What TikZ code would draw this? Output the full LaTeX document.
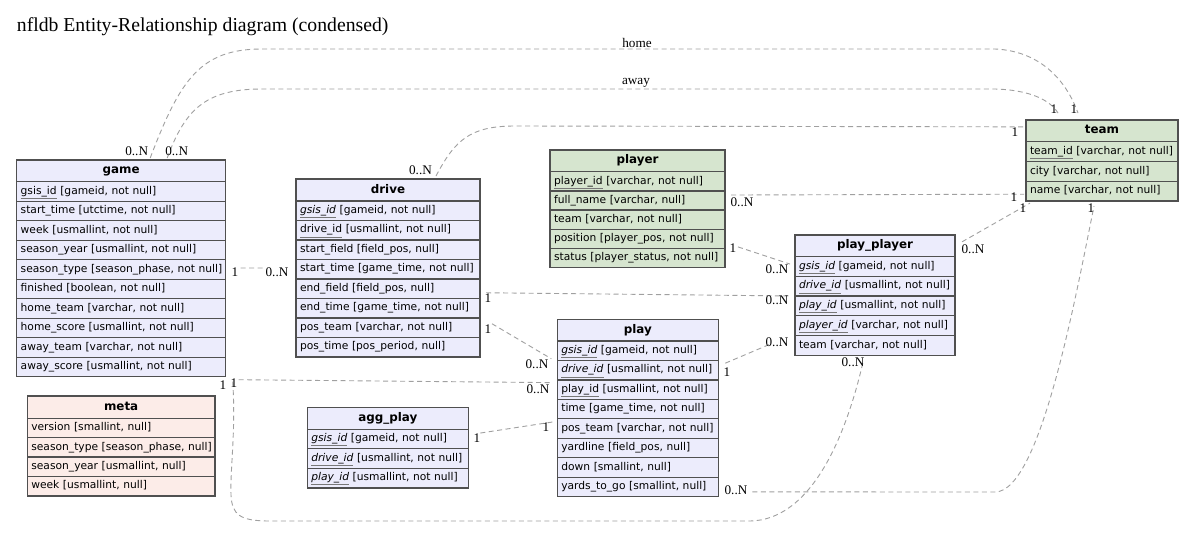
\documentclass[tikz,border=0pt]{standalone}
\usepackage{fontspec}
\setmainfont{Liberation Serif}
\newfontfamily\tabfont{DejaVu Sans}[ItalicFont={DejaVu Sans Oblique},BoldFont={DejaVu Sans Bold}]
\usetikzlibrary{calc,fit}

\definecolor{entfill}{RGB}{236,236,252}
\definecolor{reffill}{RGB}{214,229,207}
\definecolor{metafill}{RGB}{252,236,232}
\definecolor{cellline}{RGB}{80,80,80}
\definecolor{relline}{RGB}{160,160,160}
\definecolor{keyline}{RGB}{120,120,120}

\tikzset{
  ercell/.style={draw=cellline, line width=1.3pt, rectangle, inner xsep=4pt,
    inner ysep=0pt, outer sep=0pt, anchor=north west},
  erhead/.style={ercell, font=\tabfont\bfseries\fontsize{11.9}{13}\selectfont,
    align=center, text height=8.7pt, text depth=2.6pt},
  errow/.style={ercell, font=\tabfont\fontsize{10.7}{12}\selectfont,
    align=left, text height=7.9pt, text depth=2.5pt},
  erframe/.style={draw=cellline, line width=1.4pt, inner sep=0pt, outer sep=0pt},
  relation/.style={draw=relline, line width=0.9pt, dash pattern=on 5pt off 3.5pt},
  card/.style={font=\fontsize{13.2}{14}\selectfont, inner sep=0pt},
}

% primary key and foreign key columns (grey underline)
\newcommand\pkey[1]{{\color{keyline}\underline{\color{black}#1}}}
\newcommand\fkey[1]{\textit{\pkey{#1}}}

% #1 name, #2 x, #3 y, #4 width, #5 header height, #6 row height,
% #7 fill, #8 title, #9 rows
\newcommand\ertable[9]{%
  \pgfmathsetmacro\ertw{#4-8}%
  \node[erhead, fill=#7, minimum height=#5pt, text width=\ertw pt] (#1-h) at (#2,#3) {#8};
  \foreach \r [count=\i] in {#9} {%
    \node[errow, fill=#7, minimum height=#6pt, text width=\ertw pt]
      (#1-\i) at ($(#1-h.south west)+(0,{(\i-1)*#6})$) {\mbox{\r}};
    \xdef\ertlast{\i}%
  }%
  \node[erframe, fit=(#1-h)(#1-\ertlast)] (#1) {};
}

\begin{document}
\begin{tikzpicture}[x=1pt, y=-1pt]
\fill[white] (0,0) rectangle (1201,539);
\useasboundingbox (0,0) rectangle (1201,539);

\node[anchor=base west, inner sep=0pt, font=\fontsize{19.7}{22}\selectfont] (title)
  at (16.7,31) {nfldb Entity-Relationship diagram (condensed)};

% ---------- tables ----------
\ertable{game}{16.7}{160}{209}{21.7}{19.5}{entfill}{game}{
  {\pkey{gsis\_id} [gameid, not null]},
  {start\_time [utctime, not null]},
  {week [usmallint, not null]},
  {season\_year [usmallint, not null]},
  {season\_type [season\_phase, not null]},
  {finished [boolean, not null]},
  {home\_team [varchar, not null]},
  {home\_score [usmallint, not null]},
  {away\_team [varchar, not null]},
  {away\_score [usmallint, not null]}}

\ertable{drive}{296}{179}{184}{22}{19.5}{entfill}{drive}{
  {\fkey{gsis\_id} [gameid, not null]},
  {\pkey{drive\_id} [usmallint, not null]},
  {start\_field [field\_pos, null]},
  {start\_time [game\_time, not null]},
  {end\_field [field\_pos, null]},
  {end\_time [game\_time, not null]},
  {pos\_team [varchar, not null]},
  {pos\_time [pos\_period, null]}}

\ertable{player}{550}{150}{175}{21.7}{19.2}{reffill}{player}{
  {\pkey{player\_id} [varchar, not null]},
  {full\_name [varchar, null]},
  {team [varchar, not null]},
  {position [player\_pos, not null]},
  {status [player\_status, not null]}}

\ertable{team}{1026}{120}{152}{21.7}{19.8}{reffill}{team}{
  {\pkey{team\_id} [varchar, not null]},
  {city [varchar, not null]},
  {name [varchar, not null]}}

\ertable{playplayer}{795}{235}{160}{21.7}{19.7}{entfill}{play\_player}{
  {\fkey{gsis\_id} [gameid, not null]},
  {\fkey{drive\_id} [usmallint, not null]},
  {\fkey{play\_id} [usmallint, not null]},
  {\fkey{player\_id} [varchar, not null]},
  {team [varchar, not null]}}

\ertable{play}{557.3}{319.3}{161}{21.7}{19.45}{entfill}{play}{
  {\fkey{gsis\_id} [gameid, not null]},
  {\fkey{drive\_id} [usmallint, not null]},
  {\pkey{play\_id} [usmallint, not null]},
  {time [game\_time, not null]},
  {pos\_team [varchar, not null]},
  {yardline [field\_pos, null]},
  {down [smallint, null]},
  {yards\_to\_go [smallint, null]}}

\ertable{aggplay}{307.3}{407.7}{161}{21.6}{19.5}{entfill}{agg\_play}{
  {\fkey{gsis\_id} [gameid, not null]},
  {\fkey{drive\_id} [usmallint, not null]},
  {\fkey{play\_id} [usmallint, not null]}}

\ertable{meta}{27.3}{396}{187.7}{22.3}{19.4}{metafill}{meta}{
  {version [smallint, null]},
  {season\_type [season\_phase, null]},
  {season\_year [usmallint, null]},
  {week [usmallint, null]}}

% ---------- relations ----------
% game -- team (home, away)
\draw[relation] ($(game.north)+(29,-2)$) .. controls (180,80) and (200,49) .. (262,49)
  -- (995,49) .. controls (1040,51) and (1066,80) .. ($(team.north)+(-24,-7)$);
\draw[relation] ($(game.north)+(46,-2)$) .. controls (185,110) and (205,89) .. (262,89)
  -- (995,89) .. controls (1030,90) and (1050,100) .. ($(team.north)+(-44,-7)$);
% drive -- team
\draw[relation] ($(drive.north)+(48,-3)$) .. controls (455,140) and (470,126) .. (515,126)
  -- ($(team-h.west)+(-2,-4)$);
% player -- team
\draw[relation] ($(player-2.east)+(6,-5.5)$) -- ($(team-3.west)+(-2,3)$);
% play_player -- team
\draw[relation] ($(playplayer-h.east)+(7,-4)$) -- ($(team.south west)+(4,2)$);
% player -- play_player
\draw[relation] ($(player-4.east)+(13,8)$) -- ($(playplayer-1.west)+(-5,-2.5)$);
% drive -- play_player
\draw[relation] ($(drive-5.east)+(6,4)$) -- ($(playplayer-3.west)+(-5,-10)$);
% drive -- play
\draw[relation] ($(drive-7.east)+(12,-4)$) -- ($(play-1.west)+(-6,8)$);
% game -- play
\draw[relation] ($(game.south east)+(13,3)$) -- ($(play-3.west)+(-5,-7)$);
% game -- play_player
\draw[relation] ($(game.south east)+(7,5)$) .. controls (236,430) and (230,470) .. (231,495)
  .. controls (232,515) and (240,521) .. (270,521) -- (750,521)
  .. controls (810,520) and (845,440) .. ($(playplayer.south)+(-12,7)$);
% play -- team
\draw[relation] ($(play-8.east)+(34,5)$) -- (995,492)
  .. controls (1040,492) and (1075,300) .. ($(team.south)+(-8,5)$);
% play -- play_player
\draw[relation] ($(play-2.east)+(7,-7)$) -- ($(playplayer-5.west)+(-23,-2)$);
% agg_play -- play
\draw[relation] ($(aggplay-1.east)+(12,-6)$) -- ($(play-5.west)+(-5,-6.5)$);
% game -- drive
\draw[relation] ($(game-5.east)+(15,-1.5)$) -- ($(drive-4.west)+(-30,-1.25)$);

% ---------- cardinalities and role names ----------
\foreach \cx/\cy/\ct [count=\k] in {
  136.7/151/0..N, 176.7/151/0..N, 1074/109/1, 1054/109/1,
  637/43/home, 636/83/away,
  420.5/170.5/0..N, 1015/132/1,
  742/202/0..N, 1014/197/1,
  973/249/0..N, 1023/208/1,
  733/248/1, 777/269/0..N,
  488/298/1, 777/300/0..N,
  488/329/1, 537/364/0..N,
  234/383/1, 538/389/0..N,
  223/385/1, 853/362/0..N,
  736/490/0..N, 1091/208/1,
  727/372/1, 777/342/0..N,
  477/438/1, 546/427/1,
  235/272.5/1, 277/272.5/0..N}
  \node[card] (card-\k) at (\cx,\cy) {\ct};

\end{tikzpicture}
\end{document}
